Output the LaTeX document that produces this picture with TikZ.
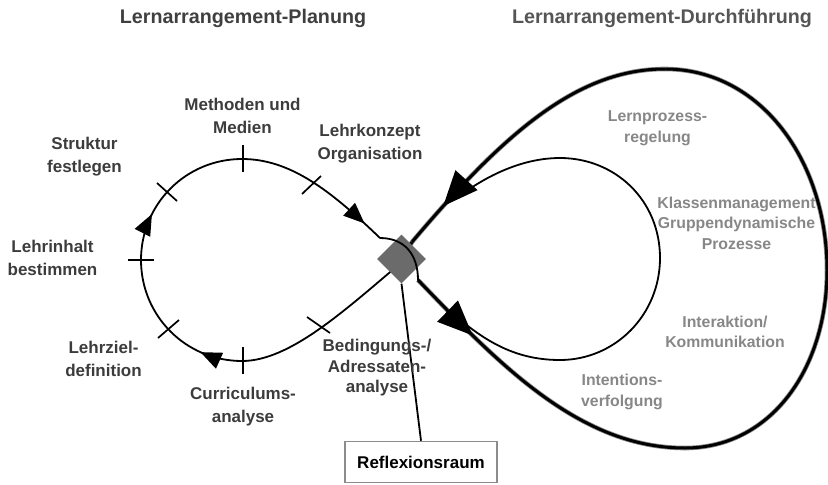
\documentclass[tikz,border=0pt]{standalone}
\usepackage{fontspec}
\setmainfont{Liberation Sans}
\usetikzlibrary{arrows.meta,decorations.markings,shapes.geometric}
\definecolor{labgray}{HTML}{3C3C3C}
\definecolor{ttlA}{HTML}{3F3F3F}
\definecolor{ttlB}{HTML}{555555}
\definecolor{rgray}{HTML}{878787}
\definecolor{sqgray}{HTML}{6B6B6B}
\definecolor{boxgray}{HTML}{8C8C8C}
\begin{document}
\begin{tikzpicture}[x=1pt,y=-1pt,
  lab/.style={font=\fontsize{17}{23}\selectfont\bfseries, text=labgray, align=center, inner sep=0pt},
  rlab/.style={font=\fontsize{15.8}{20.5}\selectfont\bfseries, text=rgray, align=center, inner sep=0pt},
  ttl/.style={font=\fontsize{19.7}{24}\selectfont\bfseries, inner sep=0pt},
  thinline/.style={line width=1.8pt},
  tickline/.style={line width=1.7pt},
  outerline/.style={line width=3pt, preaction={draw, line width=4.6pt, black!45}},
  smallarr/.style={postaction={decorate}, decoration={markings, mark=at position #1 with {\arrow{Triangle[length=21pt,width=17pt]}}}},
  bigarr/.style={postaction={decorate}, decoration={markings, mark=at position #1 with {\arrow{Triangle[length=35pt,width=29pt]}}}}
]
\useasboundingbox (0,0) rectangle (828,485);

% titles
\node[ttl, text=ttlA] (t1) at (243,18) {Lernarrangement-Planung};
\node[ttl, text=ttlB] (t2) at (662,18) {Lernarrangement-Durchführung};

% left loop
\draw[thinline] (402,262) .. controls (345,310) and (290,361) .. (242,361);
\draw[thinline, smallarr=0.27] (242,361) .. controls (186,361) and (141,316) .. (141,260);
\draw[thinline, smallarr=0.30] (141,260) .. controls (141,204) and (186,159) .. (242,159);
\draw[thinline, smallarr=0.87] (242,159) .. controls (290,159) and (330,190) .. (380,238);

% ticks
\draw[tickline] (243,145) -- (243,172);
\draw[tickline] (128,260) -- (154,260);
\draw[tickline] (243,347) -- (243,374);
\draw[tickline] (157,183) -- (177,201);
\draw[tickline] (158,338) -- (179,320);
\draw[tickline] (302,194) -- (321,176);
\draw[tickline] (307,317) -- (330,333);

% inner right loop
\draw[thinline] (458,318) .. controls (490,345) and (520,360) .. (560,360)
  .. controls (615,360) and (660,315) .. (660,258)
  .. controls (660,200) and (615,158) .. (560,158)
  .. controls (520,158) and (485,178) .. (465,192);

% outer right loop
\draw[outerline] (685,448) .. controls (770,448) and (827,370) .. (827,270)
  .. controls (827,160) and (760,69) .. (665,69);
\draw[outerline, bigarr=0.24] (418,280) .. controls (500,365) and (580,448) .. (685,448);
\draw[outerline, bigarr=0.85] (665,69) .. controls (578,69) and (505,132) .. (412,242);
\draw[outerline] (412,242) -- (402,259);

% centre square
\node[diamond, aspect=1, fill=sqgray, minimum width=49pt, minimum height=49pt, inner sep=0pt] (sq) at (401.5,259) {};
\draw[thinline] (380,238) .. controls (405,238) and (418,255) .. (418,280);

% reflection box
\node[draw=boxgray, line width=1.5pt, minimum width=152pt, minimum height=41pt, inner sep=0pt,
  font=\fontsize{17}{20}\selectfont\bfseries] (refl) at (421,462) {Reflexionsraum};
\draw[thinline] (sq.south) -- (refl.north);

% left labels
\node[lab] (l1) at (242.5,116) {Methoden und\\Medien};
\node[lab] (l2) at (84.5,157) {Struktur\\festlegen};
\node[lab] (l3) at (370,144) {Lehrkonzept\\Organisation};
\node[lab] (l4) at (52.5,258) {Lehrinhalt\\bestimmen};
\node[lab] (l5) at (103.5,359) {Lehrziel-\\definition};
\node[lab] (l6) at (243,407) {Curriculums-\\analyse};
\node[lab, font=\fontsize{17}{20.5}\selectfont\bfseries] (l7) at (377,368) {Bedingungs-/\\Adressaten-\\analyse};

% right labels
\node[rlab] (r1) at (657.5,128) {Lernprozess-\\regelung};
\node[rlab] (r2) at (736.5,223) {Klassenmanagement\\Gruppendynamische\\Prozesse};
\node[rlab] (r3) at (725,332) {Interaktion/\\Kommunikation};
\node[rlab] (r4) at (622,392) {Intentions-\\verfolgung};
\end{tikzpicture}
\end{document}
